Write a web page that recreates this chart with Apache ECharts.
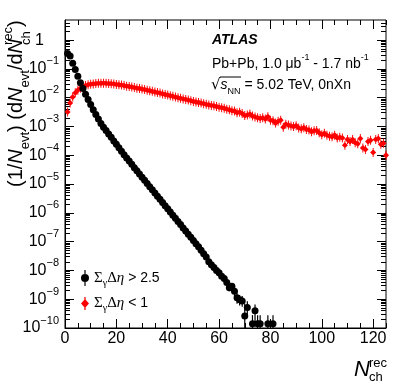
<!DOCTYPE html>
<html>
<head>
<meta charset="utf-8">
<script src="https://cdn.jsdelivr.net/npm/echarts@6/dist/echarts.min.js"></script>
<style>
  html, body { margin: 0; padding: 0; background: #fff; }
  #chart { width: 407px; height: 391px; }
</style>
</head>
<body>
<div id="chart"></div>
<script>
// N_ch^rec bins for the black points (SumGapEta > 2.5)
var blackN = [1, 2, 3, 4, 5, 6, 7, 8, 9, 10, 11, 12, 13, 14, 15, 16, 17, 18, 19, 20,
  21, 22, 23, 24, 25, 26, 27, 28, 29, 30, 31, 32, 33, 34, 35, 36, 37, 38, 39, 40,
  41, 42, 43, 44, 45, 46, 47, 48, 49, 50, 51, 52, 53, 54, 55, 56, 57, 58, 59, 60,
  61, 62, 63, 64, 65, 66, 67, 68, 69, 70, 71, 73, 74, 75, 76, 79, 81];
var blackY = [0.34, 0.28, 0.158, 0.095, 0.056, 0.033, 0.021, 0.0132, 8.7e-3, 5.75e-3,
  3.8e-3, 2.63e-3, 1.82e-3, 1.26e-3, 9.5e-4, 7.2e-4, 5.5e-4, 4.2e-4, 3.16e-4, 2.4e-4,
  1.82e-4, 1.38e-4, 1.05e-4, 8.1e-5, 6.3e-5, 4.9e-5, 3.7e-5, 2.9e-5, 2.24e-5, 1.74e-5,
  1.35e-5, 1.05e-5, 8.1e-6, 6.3e-6, 4.9e-6, 3.8e-6, 2.95e-6, 2.29e-6, 1.78e-6, 1.38e-6,
  1.07e-6, 8.3e-7, 6.5e-7, 5.0e-7, 3.9e-7, 3.0e-7, 2.34e-7, 1.82e-7, 1.41e-7, 1.1e-7,
  8.5e-8, 6.6e-8, 5.0e-8, 3.8e-8, 2.9e-8, 2.0e-8, 1.58e-8, 1.26e-8, 1.0e-8, 8.3e-9,
  6.3e-9, 5.2e-9, 3.8e-9, 2.5e-9, 2.8e-9, 1.9e-9, 1.12e-9, 9.5e-10, 8.7e-10, 2.6e-10,
  5.2e-10, 1.4e-10, 4.0e-10, 1.4e-10, 1.4e-10, 1.4e-10, 1.4e-10];

// error bars of the black tail
var tailN    = [64, 65, 66, 67, 68, 69, 70, 71, 73, 74, 75, 76, 79, 81];
var tailLow  = [1.9e-9, 2.1e-9, 1.3e-9, 7e-10, 6e-10, 5.5e-10, 1e-10, 2.5e-10, 1e-10, 1.6e-10, 1e-10, 1e-10, 1e-10, 1e-10];
var tailHigh = [3.2e-9, 3.6e-9, 2.6e-9, 1.6e-9, 1.4e-9, 1.3e-9, 7e-10, 8.5e-10, 2.8e-10, 6.5e-10, 2.8e-10, 2.8e-10, 2.8e-10, 2.8e-10];

// red points (SumGapEta < 1), one per bin N = 1 .. 125
var redY = [3.2e-3, 6.6e-3, 1.05e-2, 1.48e-2, 1.82e-2, 2.14e-2, 2.40e-2, 2.63e-2, 2.82e-2, 2.95e-2,
  3.02e-2, 3.09e-2, 3.16e-2, 3.15e-2, 3.20e-2, 3.16e-2, 3.09e-2, 3.08e-2, 3.02e-2, 2.88e-2,
  2.82e-2, 2.75e-2, 2.63e-2, 2.51e-2, 2.45e-2, 2.34e-2, 2.24e-2, 2.14e-2, 2.09e-2, 2.00e-2,
  1.91e-2, 1.82e-2, 1.74e-2, 1.66e-2, 1.58e-2, 1.51e-2, 1.45e-2, 1.35e-2, 1.29e-2, 1.23e-2,
  1.17e-2, 1.12e-2, 1.05e-2, 1.00e-2, 9.5e-3, 9.1e-3, 8.7e-3, 8.3e-3, 7.9e-3, 7.4e-3,
  7.1e-3, 6.8e-3, 6.5e-3, 6.2e-3, 5.9e-3, 5.6e-3, 5.4e-3, 5.2e-3, 4.9e-3, 4.7e-3,
  4.5e-3, 4.3e-3, 4.0e-3, 3.8e-3, 3.55e-3, 3.45e-3, 3.0e-3, 3.15e-3, 2.8e-3, 2.4e-3,
  2.5e-3, 2.7e-3, 2.3e-3, 2.15e-3, 2.0e-3, 1.9e-3, 2.0e-3, 1.82e-3, 2.2e-3, 1.66e-3,
  1.58e-3, 1.32e-3, 1.51e-3, 1.66e-3, 9.5e-4, 1.2e-3, 1.12e-3, 1.05e-3, 1.0e-3, 1.07e-3,
  8.9e-4, 8.3e-4, 9.1e-4, 7.9e-4, 7.6e-4, 6.6e-4, 7.1e-4, 7.2e-4, 6.0e-4, 5.2e-4,
  5.8e-4, 5.0e-4, 4.6e-4, 4.4e-4, 5.0e-4, 4.0e-4, 4.2e-4, 4.0e-4, 2.24e-4, 3.55e-4,
  3.0e-4, 3.5e-4, 2.75e-4, 2.5e-4, 3.8e-4, 1.8e-4, 1.6e-4, 3.0e-4, 3.3e-4, 1.26e-4,
  3.55e-4, 3.8e-4, 2.4e-4, 2.6e-4, 1.0e-4];

var seriesNames = ['ΣγΔη > 2.5', 'ΣγΔη < 1'];
var xMajor = [0, 20, 40, 60, 80, 100, 120];
var xMinor = [5, 10, 15, 25, 30, 35, 45, 50, 55, 65, 70, 75, 85, 90, 95, 105, 110, 115, 125];
var yDecades = [-10, -9, -8, -7, -6, -5, -4, -3, -2, -1, 0];
var yMin = 1e-10, yMax = 5;

var FONT = 'Liberation Sans';
var yTop = Math.log10(yMax);
var yMinor = [];
yDecades.forEach(function (n) {
  for (var k = 2; k <= 9; k++) {
    var v = n + Math.log10(k);
    if (v < yTop) yMinor.push(v);
  }
});

var blackData = blackN.map(function (n, i) { return [n, blackY[i]]; });
var redData = redY.map(function (v, i) { return [i + 1, v]; });
var tailData = tailN.map(function (n, i) { return [n, tailLow[i], tailHigh[i]]; });

var redIcon = 'path://M2.1,0 H2.9 V8 H2.1 Z M2.5,1.2 L5,4 L2.5,6.8 L0,4 Z';
var blackIcon = 'path://M3.4,0 H4.6 V16 H3.4 Z M4,4 A4,4 0 1,1 3.99,4 Z';

function tickAxis(pos, len, vals, extra) {
  var a = {
    position: pos,
    axisLine: { show: false, onZero: false },
    axisTick: { show: true, inside: true, length: len, customValues: vals,
      lineStyle: { color: '#000', width: 1 } },
    axisLabel: { show: false },
    splitLine: { show: false }
  };
  for (var k in extra) a[k] = extra[k];
  return a;
}

var xBase = { type: 'value', min: 0, max: 125 };
var yBase = { type: 'value', min: -10, max: yTop };

var xAxes = [
  tickAxis('bottom', 9, xMajor, Object.assign({}, xBase, {
    axisLine: { show: true, onZero: false, lineStyle: { color: '#000', width: 1 } },
    axisLabel: { show: true, customValues: xMajor, color: '#000', fontSize: 16,
      fontFamily: FONT, margin: 3 }
  })),
  tickAxis('bottom', 5, xMinor, xBase),
  tickAxis('top', 9, xMajor, xBase),
  tickAxis('top', 5, xMinor, xBase)
];

var yAxes = [
  { type: 'log', logBase: 10, min: yMin, max: yMax, show: false },
  tickAxis('left', 9, yDecades, Object.assign({}, yBase, {
    axisLine: { show: true, onZero: false, lineStyle: { color: '#000', width: 1 } },
    axisLabel: {
      show: true, customValues: yDecades, margin: 6, color: '#000',
      formatter: function (v) {
        var n = Math.round(v);
        if (n === 0) return '{one|1}';
        return '{b|10}{sup|\u2212' + (-n) + '}';
      },
      rich: {
        b: { fontSize: 16, fontFamily: FONT, lineHeight: 26, color: '#000' },
        one: { fontSize: 16, fontFamily: FONT, lineHeight: 26, color: '#000', padding: [0, 15, 0, 0] },
        sup: { fontSize: 11, fontFamily: FONT, lineHeight: 11, verticalAlign: 'top', color: '#000' }
      }
    }
  })),
  tickAxis('left', 5, yMinor, yBase),
  tickAxis('right', 9, yDecades, yBase),
  tickAxis('right', 5, yMinor, yBase)
];

var mainRich = {
  m: { fontSize: 20, fontFamily: FONT, lineHeight: 31, fill: '#000' },
  i: { fontSize: 20, fontFamily: FONT, fontStyle: 'italic', lineHeight: 31, fill: '#000' },
  s: { fontSize: 13, fontFamily: FONT, lineHeight: 13, verticalAlign: 'bottom', fill: '#000' }
};

var chart = echarts.init(document.getElementById('chart'), null, { renderer: 'canvas' });
chart.setOption({
  animation: false,
  backgroundColor: '#fff',
  grid: { left: 65, right: 21, top: 20, bottom: 63, show: true, borderColor: '#000', borderWidth: 1 },
  xAxis: xAxes,
  yAxis: yAxes,
  legend: {
    orient: 'vertical', left: 76, top: 265, itemGap: 8, itemWidth: 8, itemHeight: 16,
    selectedMode: false,
    data: [{ name: seriesNames[0], icon: blackIcon }, { name: seriesNames[1], icon: redIcon }],
    formatter: function (name) {
      var tail = name.slice(4);
      return '{g|\u03a3}{sub|\u03b3}{g|\u0394}{gi|\u03b7}{t|' + tail + '}';
    },
    textStyle: {
      color: '#000',
      rich: {
        g: { fontFamily: 'Liberation Serif', fontSize: 15, lineHeight: 20 },
        gi: { fontFamily: 'Liberation Serif', fontStyle: 'italic', fontSize: 15, lineHeight: 20 },
        sub: { fontFamily: 'Liberation Serif', fontSize: 10, lineHeight: 10, verticalAlign: 'bottom' },
        t: { fontFamily: FONT, fontSize: 14, lineHeight: 20 }
      }
    }
  },
  series: [
    {
      name: seriesNames[1], type: 'scatter', xAxisIndex: 0, yAxisIndex: 0,
      symbol: redIcon, symbolSize: [6, 9], itemStyle: { color: '#ff0000', opacity: 1 },
      data: redData, z: 2
    },
    {
      type: 'custom', xAxisIndex: 0, yAxisIndex: 0, z: 3,
      data: tailData,
      encode: { x: 0, y: [1, 2] },
      renderItem: function (params, api) {
        var lo = api.coord([api.value(0), api.value(1)]);
        var hi = api.coord([api.value(0), api.value(2)]);
        return { type: 'line', shape: { x1: lo[0], y1: lo[1], x2: hi[0], y2: hi[1] },
          style: { stroke: '#000', lineWidth: 1.2 } };
      }
    },
    {
      name: seriesNames[0], type: 'scatter', xAxisIndex: 0, yAxisIndex: 0,
      symbol: 'circle', symbolSize: 7, itemStyle: { color: '#000', opacity: 1 },
      data: blackData, z: 4
    }
  ],
  graphic: [
    { type: 'text', style: { x: 212, y: 40, text: 'ATLAS', fill: '#000',
        font: 'italic bold 14px "Liberation Sans"', verticalAlign: 'middle', textVerticalAlign: 'middle' } },
    { type: 'text', style: { x: 212, y: 64, fill: '#000', verticalAlign: 'middle', textVerticalAlign: 'middle',
        text: '{t|Pb+Pb, 1.0 \u03bcb}{p|-1}{t| - 1.7 nb}{p|-1}',
        rich: {
          t: { fontSize: 14, fontFamily: FONT, lineHeight: 22, fill: '#000' },
          p: { fontSize: 9, fontFamily: FONT, lineHeight: 9, verticalAlign: 'top', fill: '#000' }
        } } },
    { type: 'text', style: { x: 211, y: 85, fill: '#000', verticalAlign: 'middle', textVerticalAlign: 'middle',
        text: '{r|\u221a}{i|s}{s|NN}{t| = 5.02 TeV, 0nXn}',
        rich: {
          r: { fontSize: 15, fontFamily: 'DejaVu Sans', lineHeight: 22, fill: '#000' },
          i: { fontSize: 14, fontFamily: FONT, fontStyle: 'italic', lineHeight: 22, fill: '#000' },
          s: { fontSize: 9, fontFamily: FONT, lineHeight: 9, verticalAlign: 'bottom', fill: '#000' },
          t: { fontSize: 14, fontFamily: FONT, lineHeight: 22, fill: '#000' }
        } } },
    { type: 'line', shape: { x1: 220, y1: 77, x2: 241, y2: 77 }, style: { stroke: '#000', lineWidth: 1 } },
    // y title, rotated
    { type: 'group', x: 16, y: 187, rotation: Math.PI / 2, children: [
      { type: 'text', style: { x: 0, y: 0, verticalAlign: 'middle', textVerticalAlign: 'middle',
          text: '{m|(1/}{i|N}{s|evt}{m|) (d}{i|N}{s|evt}{m|/d}{i|N}', rich: mainRich } },
      { type: 'text', style: { x: 142, y: -8, text: 'rec', fill: '#000',
          font: '13px "Liberation Sans"', verticalAlign: 'middle', textVerticalAlign: 'middle' } },
      { type: 'text', style: { x: 142, y: 10, text: 'ch', fill: '#000',
          font: '13px "Liberation Sans"', verticalAlign: 'middle', textVerticalAlign: 'middle' } },
      { type: 'text', style: { x: 160, y: 0, text: ')', fill: '#000',
          font: '20px "Liberation Sans"', verticalAlign: 'middle', textVerticalAlign: 'middle' } }
    ] },
    // x title
    { type: 'text', style: { x: 354, y: 370, text: 'N', fill: '#000',
        font: 'italic 22px "Liberation Sans"', verticalAlign: 'middle', textVerticalAlign: 'middle' } },
    { type: 'text', style: { x: 369, y: 363, text: 'rec', fill: '#000',
        font: '13px "Liberation Sans"', verticalAlign: 'middle', textVerticalAlign: 'middle' } },
    { type: 'text', style: { x: 369, y: 377, text: 'ch', fill: '#000',
        font: '13px "Liberation Sans"', verticalAlign: 'middle', textVerticalAlign: 'middle' } }
  ]
});
</script>
</body>
</html>
